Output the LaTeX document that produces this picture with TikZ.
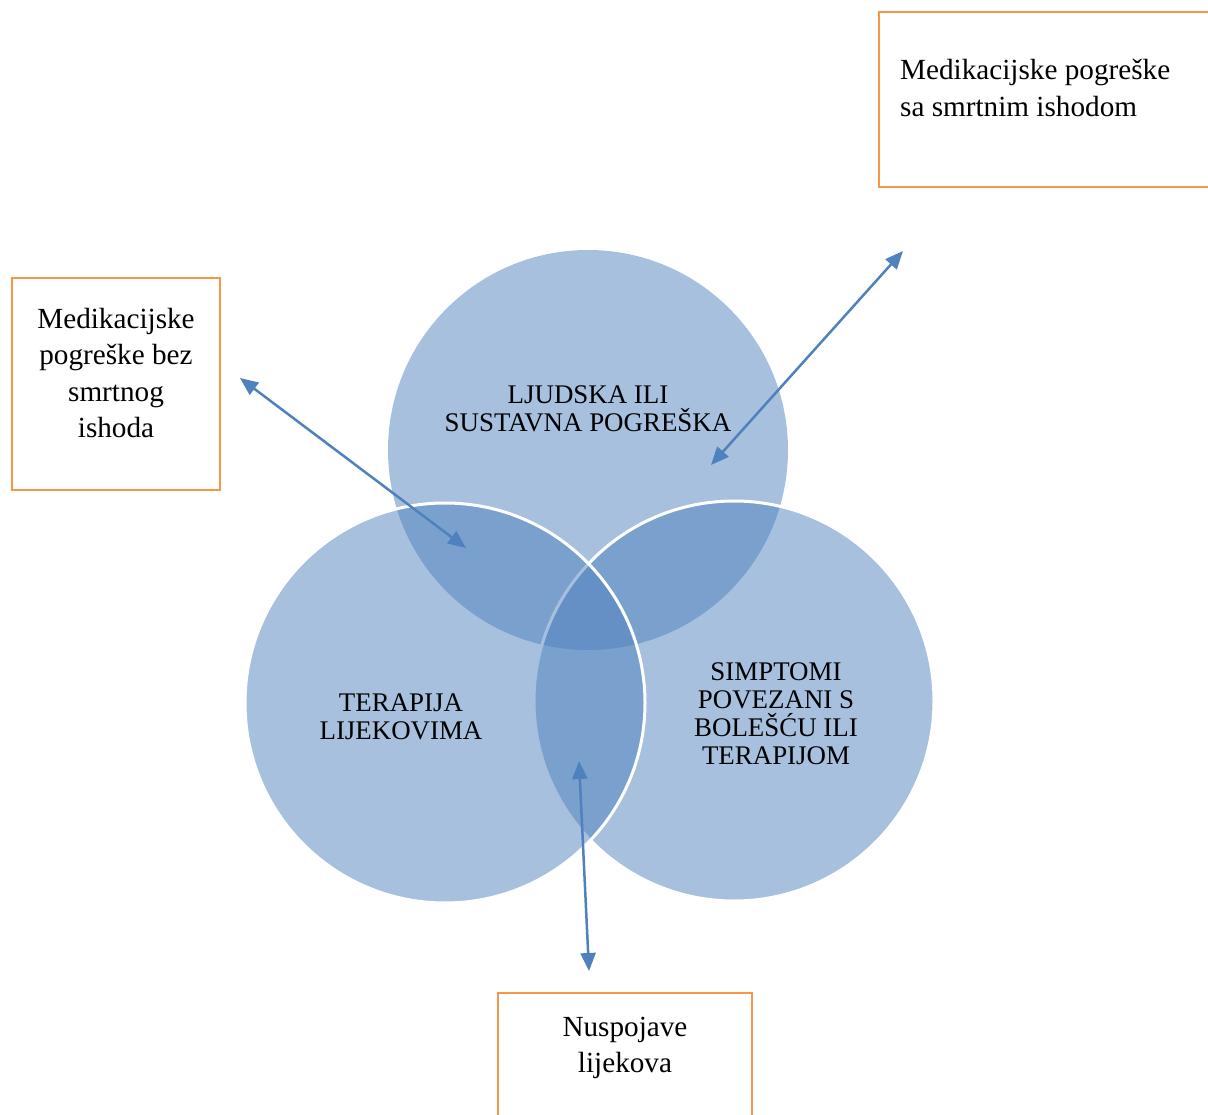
\documentclass[tikz,border=0pt]{standalone}
\usepackage{fontspec}
\setmainfont{Liberation Serif}
\usetikzlibrary{arrows.meta}
\definecolor{vennblue}{HTML}{4F81BD}
\definecolor{boxorange}{HTML}{F79646}
\tikzset{
  venn/.style={circle, minimum size=400pt, inner sep=0, fill=vennblue, fill opacity=0.5, draw=white, line width=3pt},
  labelbox/.style={draw=boxorange, line width=2.5pt, inner sep=0},
  biarrow/.style={vennblue, line width=2.5pt, {Triangle[length=18pt,width=15pt]}-{Triangle[length=18pt,width=15pt]}},
  boxtext/.style={font=\fontsize{29.2}{36.5}\selectfont, inner sep=0},
  venntext/.style={font=\fontsize{26.9}{28}\selectfont, align=center, inner sep=0}
}
\begin{document}
\begin{tikzpicture}[x=1pt,y=-1pt]
        \useasboundingbox (0,0) rectangle (1208,1115);
        \clip (0,0) rectangle (1208,1115);
        % Circles
        \node[venn, draw=none] (human) at (588,450) {};
        \node[venn] (symptoms) at (734,701) {};
        \node[venn] (therapy) at (445,703) {};
        % Labels in circles
        \node[venntext] (humantext) at (588,408.5) {LJUDSKA ILI\\SUSTAVNA POGREŠKA};
        \node[venntext] (therapytext) at (401,717) {TERAPIJA\\LIJEKOVIMA};
        \node[venntext] (symptomstext) at (776,714) {SIMPTOMI\\POVEZANI S\\BOLEŠĆU ILI\\TERAPIJOM};
        % Boxes
        \node[labelbox, minimum width=360pt, minimum height=175pt] (fatalbox) at (1059,99.5) {};
        \node[labelbox, minimum width=208pt, minimum height=212pt] (nonfatalbox) at (116,384) {};
        \node[labelbox, minimum width=254pt, minimum height=150pt] (sidebox) at (625,1068) {};
        \node[boxtext, align=left, anchor=west] (fataltext) at (900,88) {Medikacijske pogreške\\sa smrtnim ishodom};
        \node[boxtext, align=center] (nonfataltext) at (116,373) {Medikacijske\\pogreške bez\\smrtnog\\ishoda};
        \node[boxtext, align=center] (sidetext) at (625,1048) {Nuspojave\\lijekova};
        % Arrows
        \coordinate (nonfatalend) at (240,378);
        \coordinate (overlapend) at (466,548);
        \coordinate (fatalend) at (903,251);
        \coordinate (humanend) at (711,465);
        \coordinate (centreend) at (579,761);
        \coordinate (sideend) at (589,971);
        \draw[biarrow] (nonfatalend) -- (overlapend);
        \draw[biarrow] (fatalend) -- (humanend);
        \draw[biarrow] (centreend) -- (sideend);
\end{tikzpicture}
\end{document}
